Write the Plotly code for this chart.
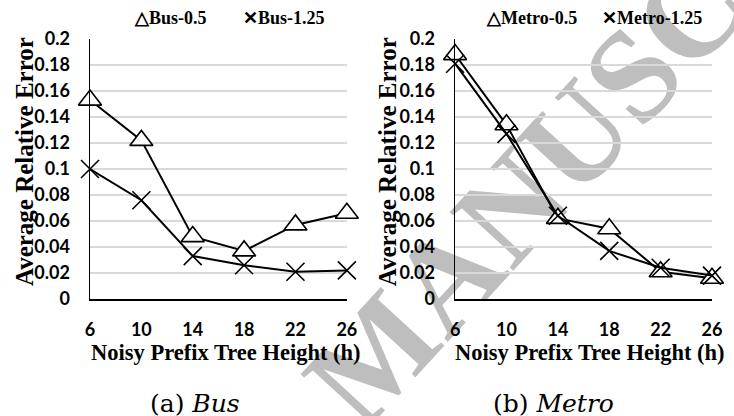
import plotly.graph_objects as go

# ---------------- data ----------------
heights = [6, 10, 14, 18, 22, 26]
bus_05 = [0.153, 0.122, 0.048, 0.037, 0.057, 0.066]
bus_125 = [0.100, 0.076, 0.033, 0.026, 0.021, 0.022]
metro_05 = [0.188, 0.134, 0.062, 0.054, 0.021, 0.016]
metro_125 = [0.181, 0.127, 0.064, 0.037, 0.024, 0.018]

y_tick_vals = [0, 0.02, 0.04, 0.06, 0.08, 0.1, 0.12, 0.14, 0.16, 0.18, 0.2]
y_tick_text = ["0", "0.02", "0.04", "0.06", "0.08", "0.1", "0.12", "0.14", "0.16", "0.18", "0.2"]
x_tick_text = ["6", "10", "14", "18", "22", "26"]

names_bus = ["Bus-0.5", "Bus-1.25"]
names_metro = ["Metro-0.5", "Metro-1.25"]
y_title = "Average Relative Error"
x_title = "Noisy Prefix Tree Height (h)"
captions = ["(a) <i>Bus</i>", "(b) <i>Metro</i>"]
watermark = "ACCEPTED MANUSCRIPT"

# ---------------- geometry (page pixels) ----------------
W, H = 734, 416
ML, MT = 90, 39
MR = W - 722
MB = H - 299
PW, PH = W - ML - MR, H - MT - MB


def px(x):
    return (x - ML) / PW


def py(y):
    return (H - MB - y) / PH


SERIF = "Liberation Serif, Times New Roman, Times, serif"
TICKFONT = dict(family="Lato, sans-serif", size=18, color="black", weight="bold")

fig = go.Figure()


def add_series(xa, ya, y05, y125, n05, n125):
    fig.add_trace(go.Scatter(
        x=heights, y=y05, name=n05, mode="lines+markers", xaxis=xa, yaxis=ya,
        line=dict(color="black", width=2),
        marker=dict(symbol="triangle-up", size=20, color="white",
                    line=dict(color="black", width=1.6)),
        cliponaxis=False, showlegend=False))
    fig.add_trace(go.Scatter(
        x=heights, y=y125, name=n125, mode="lines+markers", xaxis=xa, yaxis=ya,
        line=dict(color="black", width=2),
        marker=dict(symbol="x-thin", size=18, color="black",
                    line=dict(color="black", width=1.6)),
        cliponaxis=False, showlegend=False))


add_series("x", "y", bus_05, bus_125, names_bus[0], names_bus[1])
add_series("x2", "y2", metro_05, metro_125, names_metro[0], names_metro[1])

xax = dict(range=[6, 26], tickvals=heights, ticktext=x_tick_text, showgrid=False,
           showline=True, linecolor="black", linewidth=1.5, ticks="",
           ticklabelstandoff=14, zeroline=False, tickfont=TICKFONT, fixedrange=True)
yax = dict(range=[0, 0.2], tickvals=y_tick_vals, ticktext=y_tick_text, showgrid=True,
           gridcolor="#d9d9d9", gridwidth=1.5, showline=True, linecolor="black",
           linewidth=1.5, ticks="", ticklabelstandoff=15, zeroline=False,
           tickfont=TICKFONT, fixedrange=True)

fig.update_layout(
    width=W, height=H,
    margin=dict(l=ML, r=MR, t=MT, b=MB),
    paper_bgcolor="white", plot_bgcolor="rgba(0,0,0,0)",
    showlegend=False,
    xaxis=dict(domain=[0, px(351)], anchor="y", **xax),
    yaxis=dict(domain=[0, 1], anchor="x", **yax),
    xaxis2=dict(domain=[px(461), 1], anchor="y2", **xax),
    yaxis2=dict(domain=[0, 1], anchor="x2", **yax),
)

ann = []
# axis titles
for cx in (23, 392):
    ann.append(dict(text="<b>" + y_title + "</b>", x=px(cx), y=py(162), xref="paper", yref="paper",
                    textangle=-90, showarrow=False, xanchor="center", yanchor="middle",
                    font=dict(family=SERIF, size=25, color="black")))
for cx in (228, 598):
    ann.append(dict(text="<b>" + x_title + "</b>", x=px(cx), y=py(352), xref="paper", yref="paper",
                    showarrow=False, xanchor="center", yanchor="middle",
                    font=dict(family=SERIF, size=22.5, color="black")))
# captions
for cx, cap in zip((197, 561), captions):
    ann.append(dict(text=cap, x=px(cx), y=py(403), xref="paper", yref="paper",
                    showarrow=False, xanchor="center", yanchor="middle",
                    font=dict(family="DejaVu Serif, serif", size=25, color="black")))
# legends
leg_items = [(133, "△" + names_bus[0]), (243, "✕" + names_bus[1]),
             (490, "△" + names_metro[0]), (608, "✕" + names_metro[1])]
for lx, t in leg_items:
    ann.append(dict(text="<b>" + t + "</b>", x=px(lx), y=py(18), xref="paper", yref="paper",
                    showarrow=False, xanchor="left", yanchor="middle",
                    font=dict(family=SERIF, size=18, color="black")))
fig.update_layout(annotations=ann)

# watermark, drawn beneath everything
cxw, cyw, d = 370, 345, 100
dx, dy = 0.682 * d, 0.731 * d
fig.add_shape(type="line", xref="paper", yref="paper",
              x0=px(cxw - dx), y0=py(cyw + dy), x1=px(cxw + dx), y1=py(cyw - dy),
              line=dict(width=0, color="rgba(0,0,0,0)"), layer="below",
              label=dict(text=watermark, textposition="middle", xanchor="center",
                         yanchor="middle", padding=0,
                         font=dict(family=SERIF, size=132, color="#bebebe",
                                   weight="bold")))

fig.write_html(
    "out.html",
    config={"displayModeBar": False, "staticPlot": True},
    post_script="document.body.style.margin='0';"
                "document.documentElement.style.overflow='hidden';",
)
